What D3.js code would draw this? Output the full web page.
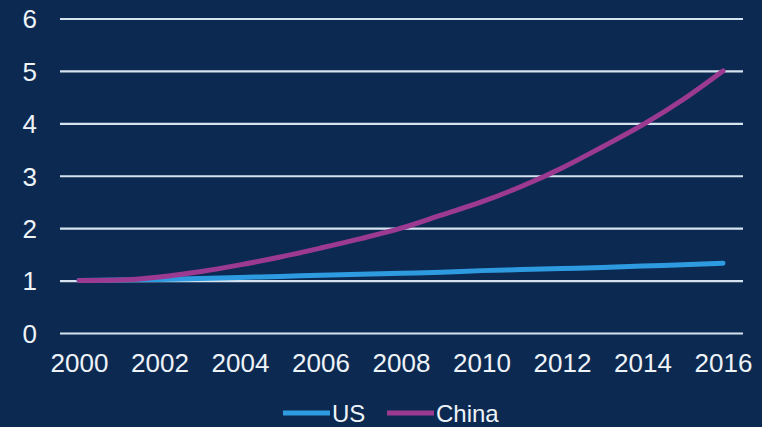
<!DOCTYPE html>
<html>
<head>
<meta charset="utf-8">
<script src="https://cdn.jsdelivr.net/npm/d3@7"></script>
<style>
  html, body { margin: 0; padding: 0; background: #0c2a51; }
  svg { display: block; }
  .tick text { font-family: "Liberation Sans", Arial, sans-serif; fill: #eef3f8; }
</style>
</head>
<body>
<div id="chart"></div>
<script>
// chart data
var years = [2000, 2001, 2002, 2003, 2004, 2005, 2006, 2007, 2008, 2009, 2010, 2011, 2012, 2013, 2014, 2015, 2016];
var usValues = [1.00, 1.01, 1.02, 1.04, 1.06, 1.08, 1.10, 1.12, 1.14, 1.16, 1.19, 1.21, 1.23, 1.25, 1.28, 1.30, 1.33];
var chinaValues = [1.00, 1.01, 1.07, 1.17, 1.30, 1.45, 1.62, 1.80, 2.00, 2.25, 2.50, 2.80, 3.15, 3.55, 3.97, 4.45, 5.00];
var yTicks = [0, 1, 2, 3, 4, 5, 6];
var xTicks = [2000, 2002, 2004, 2006, 2008, 2010, 2012, 2014, 2016];
var seriesNames = ["US", "China"];
var seriesColors = ["#2e9be0", "#9c3a92"];

var width = 762, height = 427;

var svg = d3.select("#chart").append("svg")
    .attr("width", width)
    .attr("height", height);

svg.append("rect").attr("width", width).attr("height", height).attr("fill", "#0c2a51");

var x = d3.scaleLinear().domain([2000, 2016]).range([79, 723]);
var y = d3.scaleLinear().domain([0, 6]).range([333, 18.5]);

//horizontal gridlines + y labels
var yAxis = d3.axisLeft(y).tickValues(yTicks).tickFormat(d3.format("d")).tickSize(-(743 - 60)).tickPadding(23);
svg.append("g")
    .attr("transform", "translate(60,0)")
    .call(yAxis)
    .call(function(g){
        g.select(".domain").remove();
        g.selectAll(".tick line").attr("stroke", "#d5e3f0").attr("stroke-width", 2.2);
        g.selectAll(".tick text").attr("font-size", 26).attr("dy", "0.36em");
    });

//x labels
var xAxis = d3.axisBottom(x).tickValues(xTicks).tickFormat(d3.format("d")).tickSize(0).tickPadding(21);
svg.append("g")
    .attr("transform", "translate(0,333)")
    .call(xAxis)
    .call(function(g){
        g.select(".domain").remove();
        g.selectAll(".tick text").attr("font-size", 26).attr("dy", "0.71em");
    });

var line = d3.line()
    .x(function(d){ return x(d.year); })
    .y(function(d){ return y(d.value); })
    .curve(d3.curveMonotoneX);

var allSeries = [usValues, chinaValues];
allSeries.forEach(function(vals, i){
    var pts = years.map(function(yr, j){ return {year: yr, value: vals[j]}; });
    svg.append("path")
        .datum(pts)
        .attr("d", line)
        .attr("fill", "none")
        .attr("stroke", seriesColors[i])
        .attr("stroke-width", 5)
        .attr("stroke-linecap", "round");
});

//legend
var legendX = [283, 387];
var legend = svg.append("g");
seriesNames.forEach(function(name, i){
    legend.append("line")
        .attr("x1", legendX[i]).attr("x2", legendX[i] + 47)
        .attr("y1", 413).attr("y2", 413)
        .attr("stroke", seriesColors[i])
        .attr("stroke-width", 5);
    legend.append("text")
        .attr("x", legendX[i] + 49)
        .attr("y", 422)
        .attr("font-family", "'Liberation Sans', Arial, sans-serif")
        .attr("font-size", 24)
        .attr("fill", "#eef3f8")
        .text(name);
});
</script>
</body>
</html>
